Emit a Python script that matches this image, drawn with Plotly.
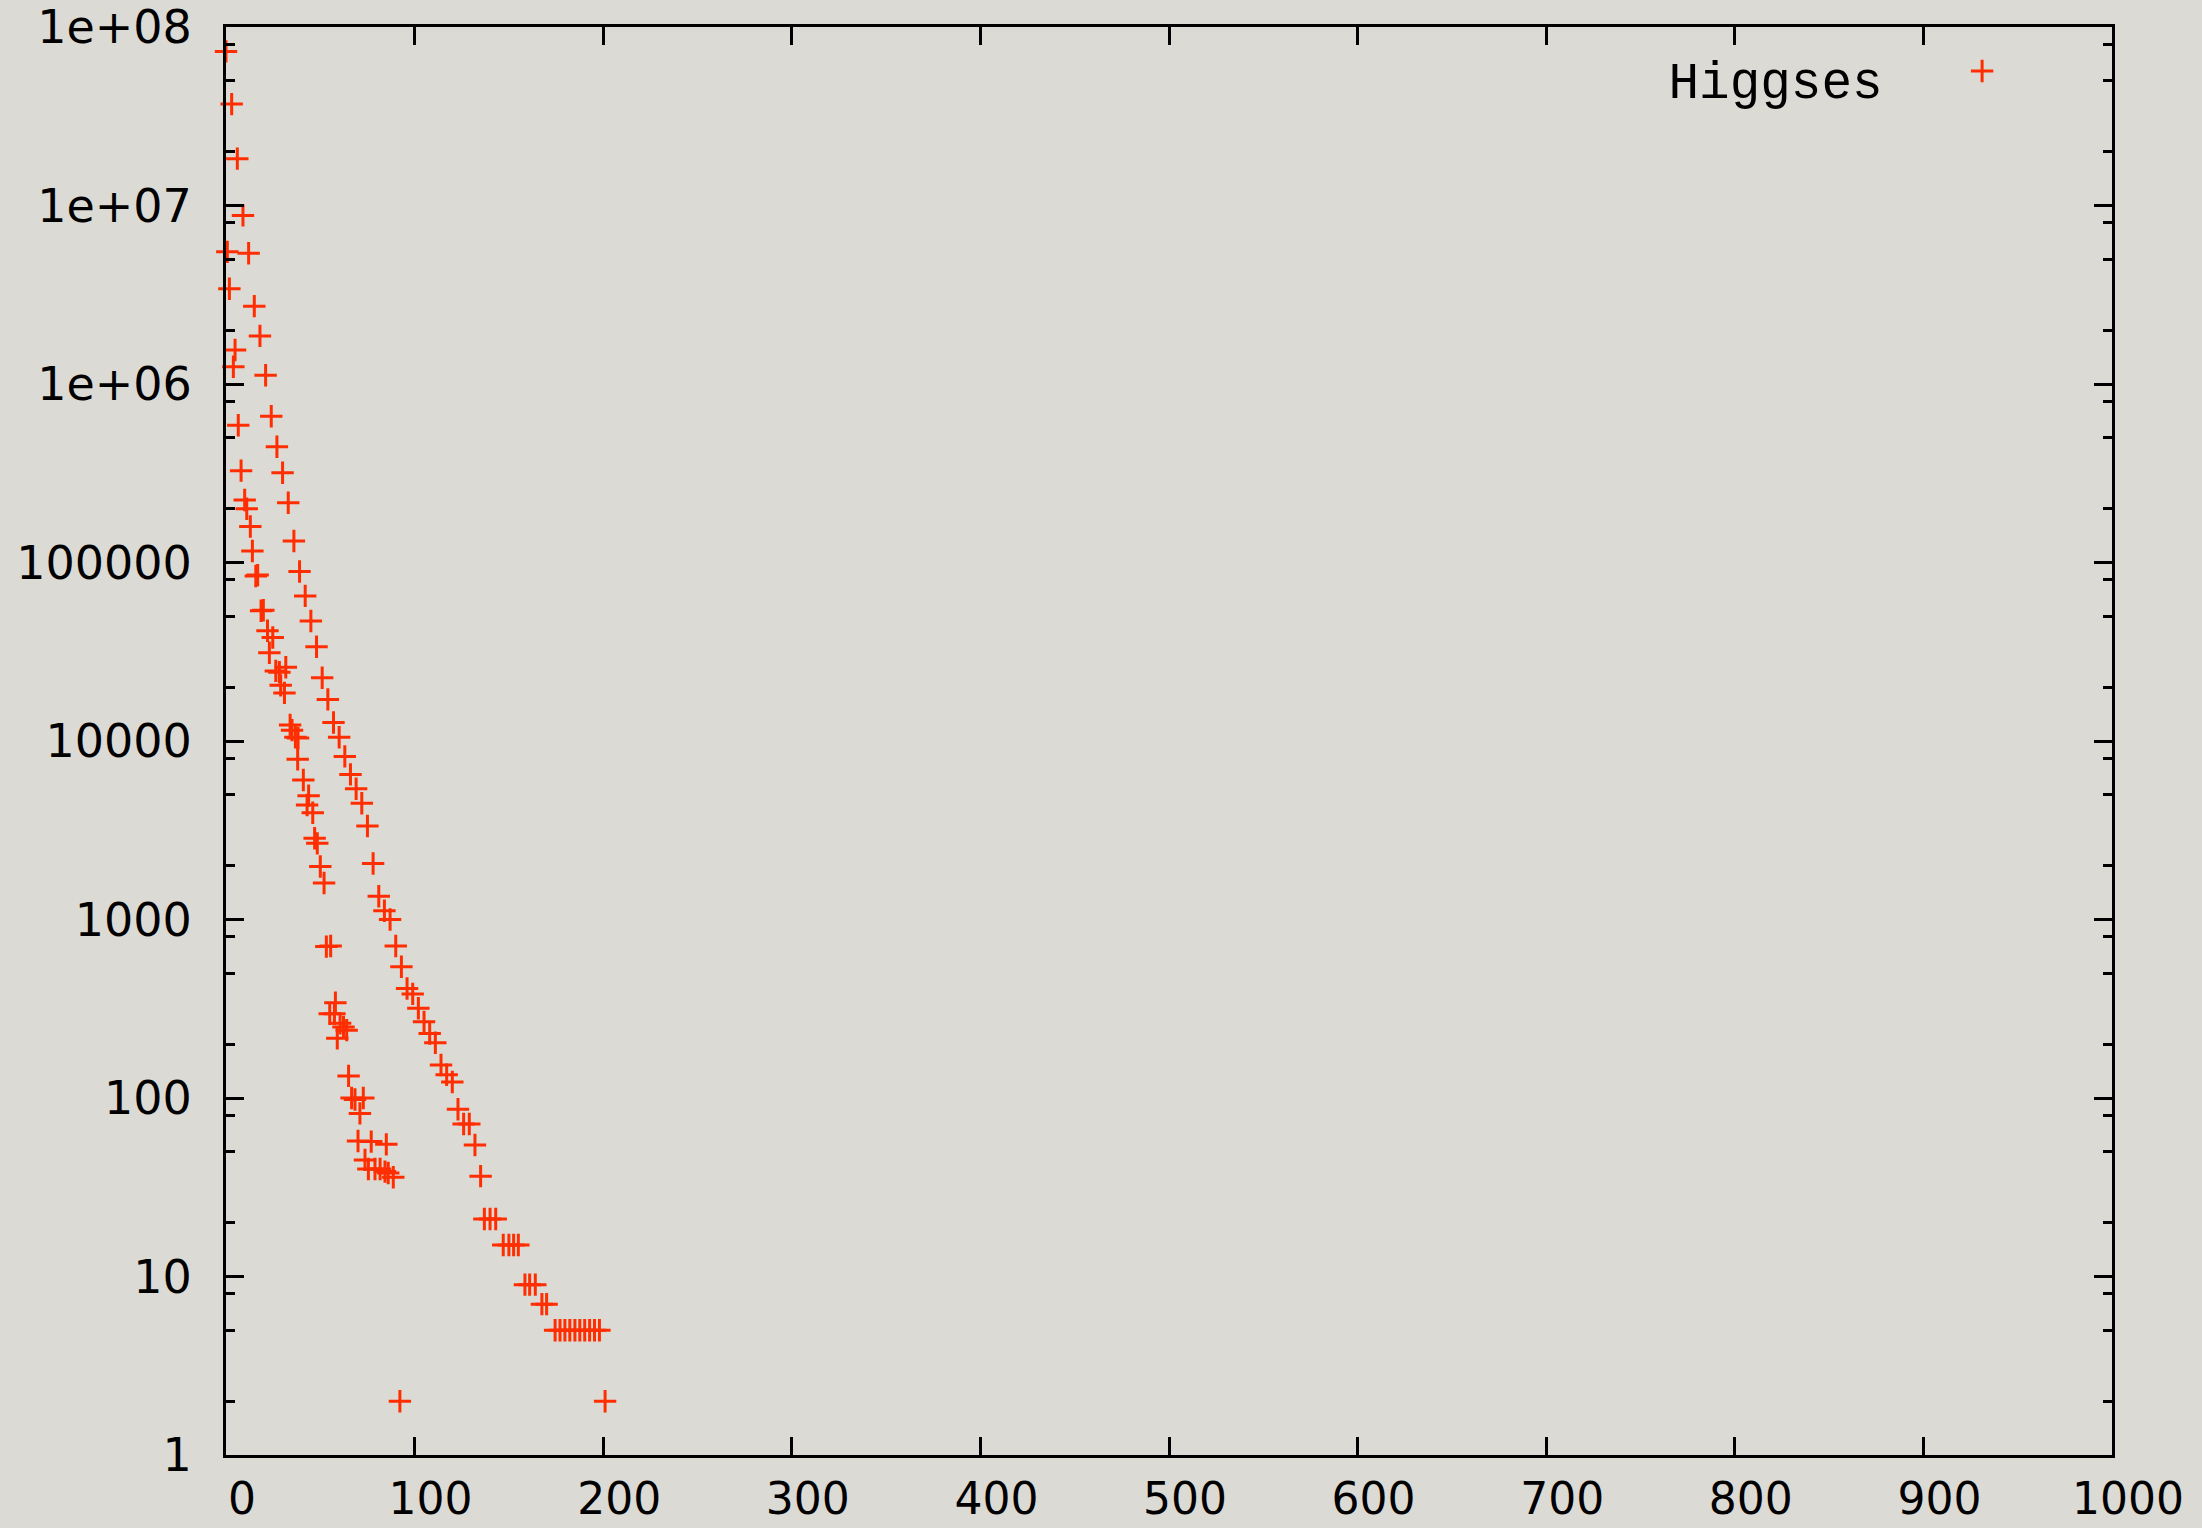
import plotly.graph_objects as go

# Upper branch
upper_x = [0, 3, 6, 9, 12, 15, 18, 21, 24, 27, 30, 33, 36, 39, 42, 45, 48, 51, 54, 57,
           60, 63, 66, 69, 72, 75, 78, 81, 84, 87, 90, 93, 96, 99, 102, 105, 108, 111, 114, 117,
           120, 123, 126, 129, 132, 135, 137, 140, 143, 147, 150, 152.5, 155, 158.5, 161, 164,
           167.5, 170, 174.5, 177.1, 179.7, 182.3, 185, 187.6, 190.2, 192.8, 195.4, 198, 201]
upper_y = [7.3e7, 3.7e7, 1.83e7, 8.8e6, 5.4e6, 2.73e6, 1.86e6, 1.12e6, 6.6e5, 4.45e5,
           3.18e5, 2.16e5, 1.32e5, 8.9e4, 6.5e4, 4.7e4, 3.37e4, 2.26e4, 1.71e4, 1.27e4,
           1.05e4, 8.2e3, 6.5e3, 5.4e3, 4.48e3, 3.34e3, 2.06e3, 1.35e3, 1.12e3, 1.0e3,
           711, 544, 411, 383, 318, 267, 230, 204, 153, 135,
           123, 86.5, 71.5, 71.5, 54.5, 36.5, 21, 21, 21, 15, 15, 15, 15, 9, 9, 9,
           7, 7, 5, 5, 5, 5, 5, 5, 5, 5, 5, 5, 2]

# Lower branch
lower_x = [0.7, 1.8, 3.9, 4.8, 6.5, 8, 9.9, 11, 12.9, 14, 15.8, 16.8, 18.6, 19.8, 22, 24.8,
           23, 26.4, 28.3, 31.7, 29, 31, 34, 35, 36.8, 38.2, 38, 41, 43.8, 43, 46, 47, 48.4,
           50, 52, 53.2, 55.5, 58, 55, 57.5, 60.5, 62.3, 64, 59, 65, 66.6, 68.4, 72.8, 71,
           70, 77, 85, 73.7, 75.5, 79, 81.7, 84.3, 86, 88.7, 92.2]
lower_y = [5.5e6, 3.42e6, 1.25e6, 1.55e6, 5.87e5, 3.27e5, 2.24e5, 2.0e5, 1.59e5, 1.16e5,
           8.4e4, 8.5e4, 5.37e4, 5.4e4, 4.15e4, 3.8e4, 3.12e4, 2.47e4, 2.43e4, 2.59e4,
           2.05e4, 1.86e4, 1.23e4, 1.15e4, 1.05e4, 1.04e4, 7.9e3, 6.05e3, 4.94e3, 4.38e3,
           3.96e3, 2.85e3, 2.67e3, 1.98e3, 1.6e3, 705, 711, 342, 296, 296, 262, 250, 240,
           216, 133, 100, 98, 100, 82, 57.4, 57, 55, 45, 40, 40, 40, 38.7, 38, 36, 2]

xs = upper_x + lower_x
ys = upper_y + lower_y

x_ticks = [0, 100, 200, 300, 400, 500, 600, 700, 800, 900, 1000]
y_ticks = [1, 10, 100, 1000, 10000, 100000, 1e6, 1e7, 1e8]
y_tick_text = ["1", "10", "100", "1000", "10000", "100000", "1e+06", "1e+07", "1e+08"]
y_minor = [m * 10 ** d for d in range(8) for m in (2, 5, 8)]

BG = "#dcdad4"
RED = "#ff2e00"

fig = go.Figure()
fig.add_trace(go.Scatter(
    x=xs, y=ys, mode="markers", name=" ",
    marker=dict(symbol="cross-thin", size=16, color=RED,
                line=dict(color=RED, width=3)),
    cliponaxis=False,
))

fig.update_layout(
    width=2202, height=1528,
    margin=dict(l=226, r=90, t=27, b=73, autoexpand=False),
    paper_bgcolor=BG, plot_bgcolor=BG,
    showlegend=True,
    legend=dict(
        title=dict(text="Higgses\u00a0\u00a0\u2009", side="left",
                   font=dict(family="Liberation Mono", size=51, color="black")),
        font=dict(family="Liberation Mono", size=51, color="black"),
        x=0.961, y=0.997, xanchor="right", yanchor="top",
        bgcolor="rgba(0,0,0,0)",
    ),
    xaxis=dict(
        range=[0, 1000], tickmode="array", tickvals=x_ticks,
        ticktext=[str(v) for v in x_ticks], automargin=False,
        showgrid=False, zeroline=False,
        showline=True, linecolor="black", linewidth=3, mirror="ticks",
        ticks="inside", ticklen=18, tickwidth=3, tickcolor="black",
        tickfont=dict(family="DejaVu Sans", size=44, color="black"),
        ticklabelshift=16, ticklabelstandoff=3,
    ),
    yaxis=dict(
        type="log", range=[0, 8], tickmode="array", tickvals=y_ticks,
        ticktext=y_tick_text, automargin=False,
        showgrid=False, zeroline=False,
        showline=True, linecolor="black", linewidth=3, mirror="ticks",
        ticks="inside", ticklen=18, tickwidth=3, tickcolor="black",
        tickfont=dict(family="DejaVu Sans", size=46, color="black"),
        ticklabelstandoff=22,
        minor=dict(tickmode="array", tickvals=y_minor, ticks="inside",
                   ticklen=9, tickwidth=3, tickcolor="black", showgrid=False),
    ),
)

fig.write_html("out.html")
